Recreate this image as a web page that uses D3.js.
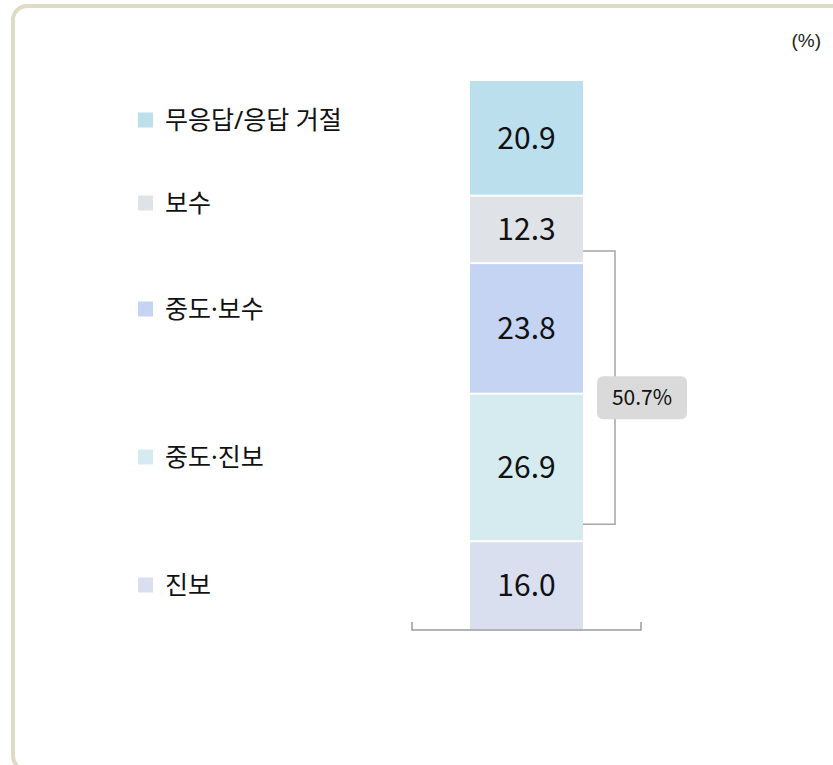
<!DOCTYPE html>
<html>
<head>
<meta charset="utf-8">
<script src="https://cdn.jsdelivr.net/npm/d3@7"></script>
<style>
  body { margin: 0; background: #fff; }
  svg { display: block; }
</style>
</head>
<body>
<svg id="chart" width="833" height="765"></svg>
<script>
// stacked from the bottom up
const categories = ["진보", "중도·진보", "중도·보수", "보수", "무응답/응답 거절"];
const values = [16.0, 26.9, 23.8, 12.3, 20.9];
const colors = ["#dadff0", "#d6ebef", "#c5d4f2", "#dfe3e8", "#bcdfee"];
const groupKeys = ["중도·보수", "중도·진보"];   // bracketed together
const unitLabel = "(%)";

// legend rows, top to bottom (hand placed like the original)
const legendRows = ["무응답/응답 거절", "보수", "중도·보수", "중도·진보", "진보"];
const legendY = [120, 203, 309, 457, 585];

const svg = d3.select("#chart");
const FONT = "'Noto Sans CJK KR', 'Noto Sans', sans-serif";
const LEGEND_FONT = "'Noto Sans', 'Noto Sans CJK KR', sans-serif";

// frame
svg.append("rect")
  .attr("x", 13).attr("y", 6)
  .attr("width", 900).attr("height", 764)
  .attr("rx", 14)
  .attr("fill", "none")
  .attr("stroke", "#dfdbc5")
  .attr("stroke-width", 4);

svg.append("text")
  .attr("x", 821).attr("y", 47)
  .attr("text-anchor", "end")
  .style("font-family", "'Liberation Sans Narrow', 'Liberation Sans', Arial, sans-serif")
  .style("font-size", "19px")
  .attr("fill", "#222")
  .text(unitLabel);

const row = {};
categories.forEach((c, i) => row[c] = values[i]);
const stacked = d3.stack().keys(categories)([row]);

const total = d3.sum(values);
const y = d3.scaleLinear().domain([0, total]).range([629, 81]);
const x = d3.scaleBand().domain(["전체"]).range([412, 641]).paddingInner(0).paddingOuter(0.513);

const colorOf = d3.scaleOrdinal().domain(categories).range(colors);

// bottom bracket axis
const axisY = 630;
svg.append("path")
  .attr("d", `M${x.range()[0]},${axisY - 8}V${axisY}H${x.range()[1]}V${axisY - 8}`)
  .attr("fill", "none")
  .attr("stroke", "#9a9a9a")
  .attr("stroke-width", 1.5);

const seg = svg.append("g").selectAll("g")
  .data(stacked)
  .join("g");

seg.append("rect")
  .attr("x", x("전체"))
  .attr("width", x.bandwidth())
  .attr("y", d => y(d[0][1]) + (d.index === categories.length - 1 ? 0 : 1))
  .attr("height", d => y(d[0][0]) - y(d[0][1]) - (d.index === categories.length - 1 ? 1 : 2) + (d.index === 0 ? 1 : 0))
  .attr("fill", d => colorOf(d.key));

seg.append("text")
  .attr("x", x("전체") + x.bandwidth() / 2)
  .attr("y", d => (y(d[0][0]) + y(d[0][1])) / 2)
  .attr("dy", "0.36em")
  .attr("text-anchor", "middle")
  .style("font-family", FONT)
  .style("font-size", "30px")
  .attr("fill", "#111")
  .text(d => d3.format(".1f")(d[0].data[d.key]));

// right bracket for the middle group
const grp = stacked.filter(s => groupKeys.includes(s.key));
const grpTop = d3.max(grp, s => s[0][1]);
const grpBot = d3.min(grp, s => s[0][0]);
const bx0 = x("전체") + x.bandwidth();
const bx1 = bx0 + 32;
const by0 = y(grpTop) - 12;
const by1 = y(grpBot) - 17;
svg.append("path")
  .attr("d", `M${bx0},${by0}H${bx1}V${by1}H${bx0}`)
  .attr("fill", "none")
  .attr("stroke", "#a5a5a5")
  .attr("stroke-width", 1.5);

const grpSum = d3.sum(groupKeys, k => row[k]);
const boxCy = (by0 + by1) / 2 + 10;
svg.append("rect")
  .attr("x", bx1 - 18).attr("y", boxCy - 21.5)
  .attr("width", 90).attr("height", 43)
  .attr("rx", 6)
  .attr("fill", "#dadada");
svg.append("text")
  .attr("x", bx1 + 27).attr("y", boxCy)
  .attr("dy", "0.36em")
  .attr("text-anchor", "middle")
  .style("font-family", FONT)
  .style("font-size", "21px")
  .attr("fill", "#111")
  .text(d3.format(".1f")(grpSum) + "%");

// legend
const leg = svg.append("g").selectAll("g")
  .data(legendRows)
  .join("g")
  .attr("transform", (d, i) => `translate(138,${legendY[i]})`);
leg.append("rect")
  .attr("x", 0).attr("y", -7.5)
  .attr("width", 15).attr("height", 15)
  .attr("fill", d => colorOf(d));
leg.append("text")
  .attr("x", 27).attr("y", 0)
  .attr("dy", "0.36em")
  .style("font-family", LEGEND_FONT)
  .style("font-size", "25px")
  .attr("fill", "#111")
  .text(d => d);
</script>
</body>
</html>
